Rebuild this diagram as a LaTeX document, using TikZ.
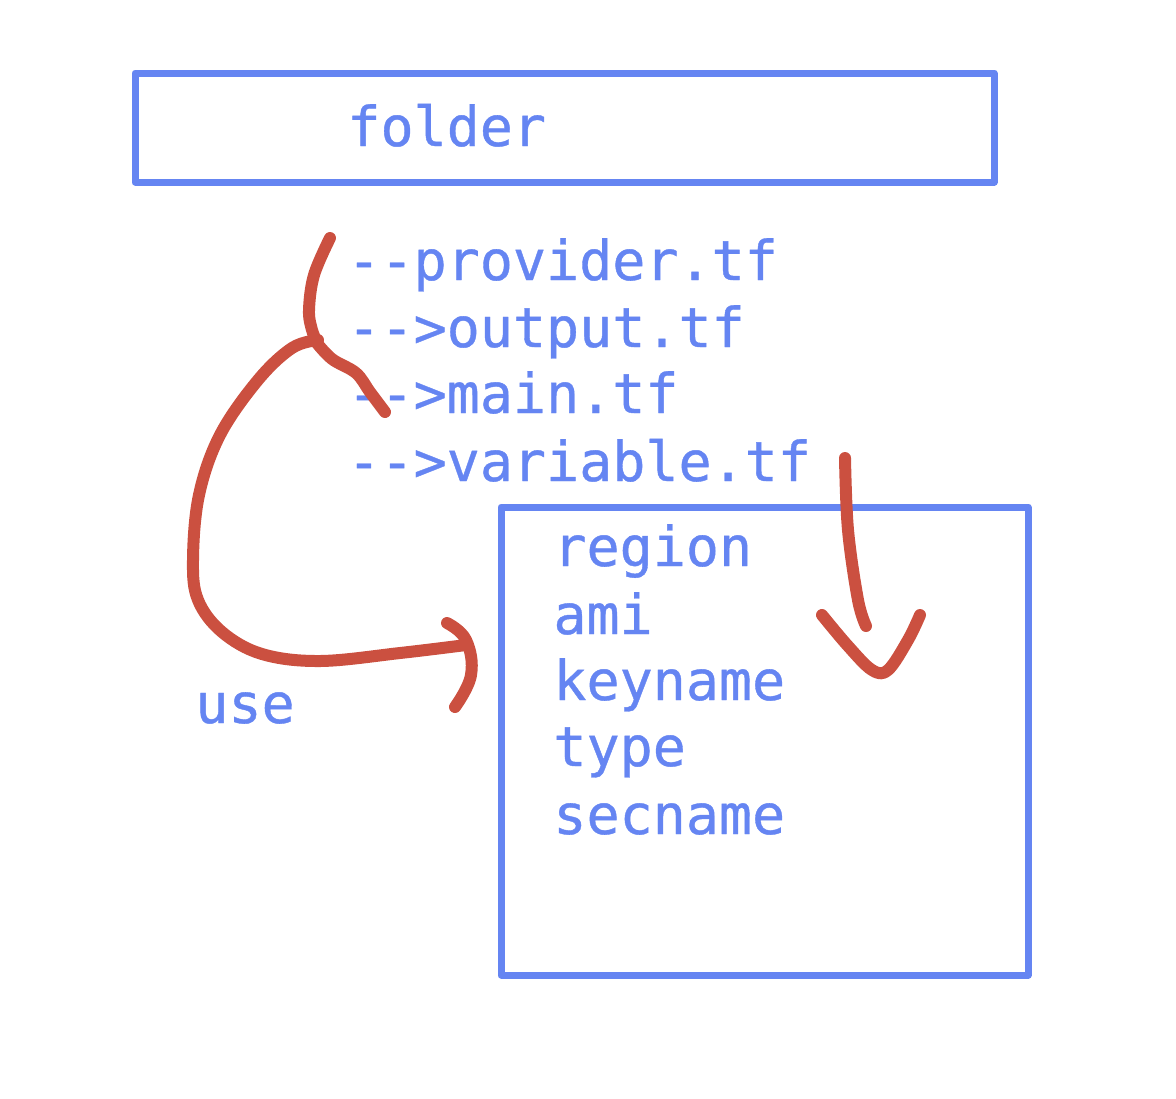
\documentclass[tikz,border=0pt]{standalone}
\usepackage{fontspec}
\newfontfamily\penfont[FakeBold=0.7]{DejaVu Sans Mono}
\definecolor{penblue}{RGB}{101,133,242}
\definecolor{penred}{RGB}{203,80,64}
\begin{document}
\begin{tikzpicture}[x=0.5pt,y=-0.5pt,
  box/.style={draw=penblue,line width=3.5pt,line join=round},
  txt/.style={text=penblue,font=\penfont\fontsize{27.5}{33}\selectfont,inner sep=0pt,anchor=base west},
  stroke/.style={draw=penred,line width=6pt,line cap=round,line join=round}]
\useasboundingbox (0,0) rectangle (1176,1098);
% boxes
\draw[box] (135,73) rectangle (994,182);
\draw[box] (501,507) rectangle (1028,975);
% texts
\node[txt] (folder) at (347,146) {folder};
\node[txt] (prov) at (347,280) {--provider.tf};
\node[txt] (outp) at (347,347) {-->output.tf};
\node[txt] (mainf) at (347,413) {-->main.tf};
\node[txt] (var) at (347,481) {-->variable.tf};
\node[txt] (reg) at (553,566) {region};
\node[txt] (ami) at (553,634) {ami};
\node[txt] (key) at (553,700) {keyname};
\node[txt] (typ) at (553,766) {type};
\node[txt] (sec) at (553,834) {secname};
\node[txt] (use) at (195,723) {use};
% red strokes
\draw[stroke] plot[smooth,tension=0.6] coordinates {(330,238) (314,275) (309,310) (312,330) (317,342)};
\draw[stroke] plot[smooth,tension=0.6] coordinates {(316,342) (332,359) (356,373) (370,392) (385,412)};
\draw[stroke] plot[smooth,tension=0.6] coordinates {(318,340) (292,348) (258,380) (220,435) (199,495) (193,560) (198,600) (222,632) (262,654) (320,661) (400,653) (466,645)};
\draw[stroke] plot[smooth,tension=0.7] coordinates {(447,623) (466,640) (471,675) (455,707)};
\draw[stroke] plot[smooth,tension=0.6] coordinates {(845,458) (848,530) (858,600) (866,626)};
\draw[stroke] plot[smooth,tension=0.6] coordinates {(822,615) (848,646) (872,670) (888,670) (908,640) (920,615)};
\end{tikzpicture}
\end{document}
